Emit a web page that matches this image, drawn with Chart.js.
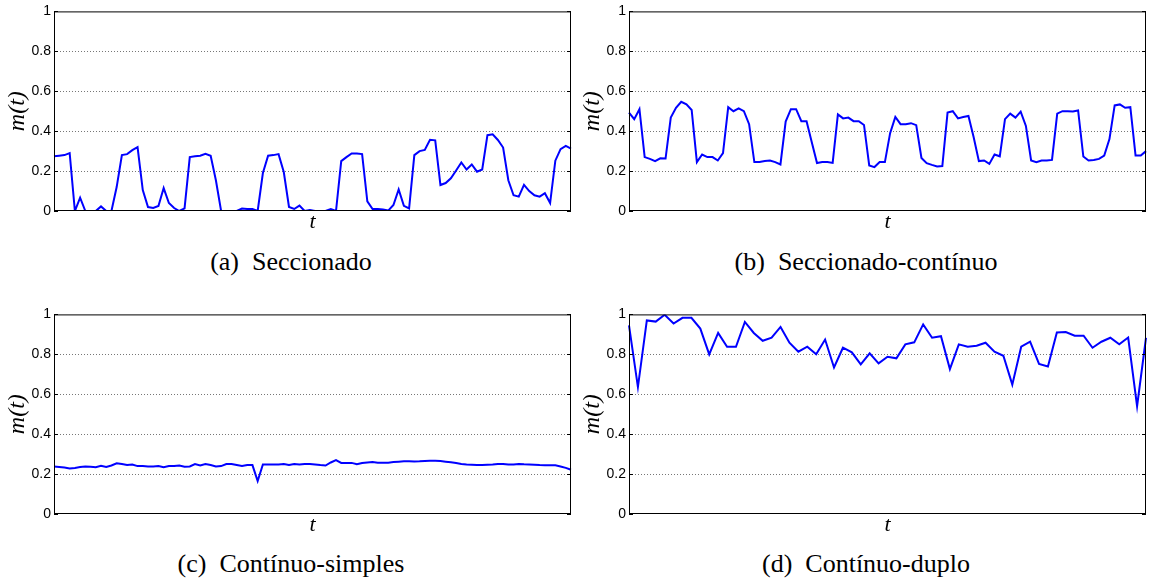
<!DOCTYPE html>
<html>
<head>
<meta charset="utf-8">
<script src="https://cdn.jsdelivr.net/npm/chart.js@4/dist/chart.umd.min.js"></script>
<style>
  body { margin: 0; background: #fff; width: 1150px; height: 581px; position: relative; overflow: hidden; }
  canvas { position: absolute; }
  .cap { position: absolute; font-family: "Liberation Serif", "Times New Roman", serif;
         font-size: 26px; color: #000; white-space: pre; transform: translate(-50%, -50%); line-height: 1; }
</style>
</head>
<body>
<canvas id="cA" width="575" height="240" style="left:0;top:0"></canvas>
<canvas id="cB" width="575" height="240" style="left:575px;top:0"></canvas>
<canvas id="cC" width="575" height="240" style="left:0;top:303px"></canvas>
<canvas id="cD" width="575" height="240" style="left:575px;top:303px"></canvas>
<div class="cap" style="left:291px;top:262px">(a)  Seccionado</div>
<div class="cap" style="left:866px;top:262px">(b)  Seccionado-contínuo</div>
<div class="cap" style="left:291px;top:564px">(c)  Contínuo-simples</div>
<div class="cap" style="left:866px;top:564px">(d)  Contínuo-duplo</div>
<script>
// m(t) per panel
const seccionado = [
  0.274, 0.277, 0.28, 0.29, 0.0, 0.067, 0, 0, 0, 0.023,
  0, 0, 0.12, 0.28, 0.285, 0.305, 0.32, 0.105, 0.02, 0.015,
  0.025, 0.115, 0.04, 0.015, 0, 0.013, 0.27, 0.274, 0.277, 0.287,
  0.277, 0.154, 0, 0, 0, 0, 0.012, 0.01, 0.01, 0,
  0.19, 0.277, 0.28, 0.285, 0.195, 0.02, 0.01, 0.027, 0, 0.005,
  0, 0, 0, 0.01, 0, 0.25, 0.27, 0.288, 0.288, 0.285,
  0.048, 0.01, 0.01, 0.007, 0.002, 0.03, 0.108, 0.026, 0.013, 0.28,
  0.30, 0.306, 0.357, 0.354, 0.13, 0.14, 0.164, 0.203, 0.243, 0.208,
  0.233, 0.197, 0.208, 0.38, 0.384, 0.356, 0.318, 0.154, 0.079, 0.072,
  0.131, 0.10, 0.079, 0.072, 0.089, 0.04, 0.252, 0.31, 0.326, 0.313
];
const seccionadoContinuo = [
  0.493, 0.46, 0.51, 0.27, 0.261, 0.25, 0.264, 0.263, 0.468, 0.517,
  0.547, 0.534, 0.506, 0.245, 0.283, 0.27, 0.27, 0.253, 0.29, 0.52,
  0.50, 0.514, 0.50, 0.435, 0.245, 0.245, 0.25, 0.253, 0.245, 0.233,
  0.448, 0.51, 0.51, 0.45, 0.45, 0.344, 0.24, 0.245, 0.245, 0.241,
  0.484, 0.464, 0.468, 0.45, 0.45, 0.431, 0.228, 0.22, 0.245, 0.245,
  0.39, 0.471, 0.435, 0.435, 0.44, 0.43, 0.266, 0.24, 0.231, 0.223,
  0.225, 0.493, 0.50, 0.464, 0.471, 0.476, 0.369, 0.25, 0.253, 0.236,
  0.283, 0.274, 0.46, 0.488, 0.468, 0.498, 0.426, 0.253, 0.245, 0.253,
  0.253, 0.256, 0.488, 0.50, 0.50, 0.498, 0.504, 0.273, 0.253, 0.256,
  0.261, 0.278, 0.36, 0.529, 0.534, 0.517, 0.52, 0.278, 0.278, 0.3
];
const continuoSimples = [
  0.238, 0.236, 0.233, 0.228, 0.231, 0.235, 0.238, 0.237, 0.234, 0.242,
  0.236, 0.243, 0.254, 0.25, 0.245, 0.248, 0.24, 0.24, 0.238, 0.238,
  0.24, 0.234, 0.24, 0.24, 0.243, 0.237, 0.238, 0.25, 0.243, 0.25,
  0.245, 0.238, 0.24, 0.25, 0.25, 0.245, 0.24, 0.245, 0.245, 0.165,
  0.248, 0.248, 0.248, 0.248, 0.25, 0.245, 0.25, 0.248, 0.25, 0.25,
  0.248, 0.245, 0.243, 0.258, 0.27, 0.256, 0.256, 0.256, 0.249, 0.255,
  0.258, 0.26, 0.257, 0.257, 0.257, 0.26, 0.262, 0.264, 0.264, 0.263,
  0.264, 0.266, 0.267, 0.267, 0.265, 0.262, 0.259, 0.255, 0.25, 0.248,
  0.247, 0.246, 0.245, 0.247, 0.248, 0.25, 0.251, 0.248, 0.248, 0.251,
  0.249, 0.248, 0.247, 0.245, 0.244, 0.244, 0.244, 0.238, 0.231, 0.222
];
const continuoDuplo = [
  0.945, 0.636, 0.97, 0.964, 0.998, 0.954, 0.983, 0.983, 0.929, 0.80,
  0.907, 0.838, 0.838, 0.962, 0.907, 0.868, 0.883, 0.937, 0.858, 0.813,
  0.838, 0.80, 0.874, 0.734, 0.833, 0.81, 0.75, 0.805, 0.755, 0.788,
  0.78, 0.85, 0.86, 0.95, 0.883, 0.891, 0.726, 0.85, 0.838, 0.843,
  0.858, 0.813, 0.793, 0.648, 0.838, 0.863, 0.752, 0.739, 0.909, 0.912,
  0.893, 0.893, 0.833, 0.863, 0.883, 0.85, 0.884, 0.54, 0.883
];
const yTicks = [0, 0.2, 0.4, 0.6, 0.8, 1];

const serif = "'Liberation Serif', 'Times New Roman', serif";

// box around the plot + inward ticks, matlab style
const frame = {
  id: "frame",
  afterDatasetsDraw(chart) {
    const { ctx, chartArea: a } = chart;
    const y = chart.scales.y;
    ctx.save();
    ctx.strokeStyle = "#000";
    ctx.lineWidth = 1;
    ctx.strokeRect(a.left + 0.5, a.top + 0.5, a.right - a.left - 1, a.bottom - a.top - 1);
    ctx.beginPath();
    yTicks.forEach(v => {
      const py = Math.round(y.getPixelForValue(v)) + 0.5;
      ctx.moveTo(a.left, py); ctx.lineTo(a.left + 4, py);
      ctx.moveTo(a.right - 4, py); ctx.lineTo(a.right, py);
    });
    ctx.stroke();
    ctx.restore();
  }
};

function drawPanel(id, values) {
  const labels = values.map((_, i) => i);
  return new Chart(id, {
    type: "line",
    data: {
      labels: labels,
      datasets: [{
        data: values,
        borderColor: "#0000ff",
        borderWidth: 2,
        pointRadius: 0,
        tension: 0,
        fill: false
      }]
    },
    plugins: [frame],
    options: {
      responsive: false,
      animation: false,
      devicePixelRatio: 1,
      layout: { padding: { top: 9, right: 4, left: 0, bottom: 0 } },
      plugins: { legend: { display: false }, tooltip: { enabled: false } },
      scales: {
        x: {
          type: "category",
          offset: false,
          grid: { display: false },
          border: { display: false },
          ticks: { display: false },
          afterFit: s => { s.height = 29; },
          title: {
            display: true,
            text: "t",
            color: "#000",
            font: { family: serif, style: "italic", size: 22 },
            padding: { top: 0, bottom: 5 }
          }
        },
        y: {
          min: 0,
          max: 1,
          afterBuildTicks: s => { s.ticks = yTicks.map(v => ({ value: v })); },
          afterFit: s => { s.width = 54; },
          border: { display: false, dash: [1, 2] },
          grid: {
            drawTicks: false,
            lineWidth: 1,
            color: c => (c.tick && c.tick.value > 0 && c.tick.value < 1) ? "#777" : "rgba(0,0,0,0)"
          },
          ticks: {
            padding: 3,
            color: "#000",
            font: { family: "'Liberation Sans', Arial, sans-serif", size: 14 },
            callback: v => String(+Number(v).toFixed(1))
          },
          title: {
            display: true,
            text: "m(t)",
            color: "#000",
            font: { family: serif, style: "italic", size: 24 },
            padding: { top: 3, bottom: 0 }
          }
        }
      }
    }
  });
}

drawPanel("cA", seccionado);
drawPanel("cB", seccionadoContinuo);
drawPanel("cC", continuoSimples);
drawPanel("cD", continuoDuplo);
</script>
</body>
</html>
